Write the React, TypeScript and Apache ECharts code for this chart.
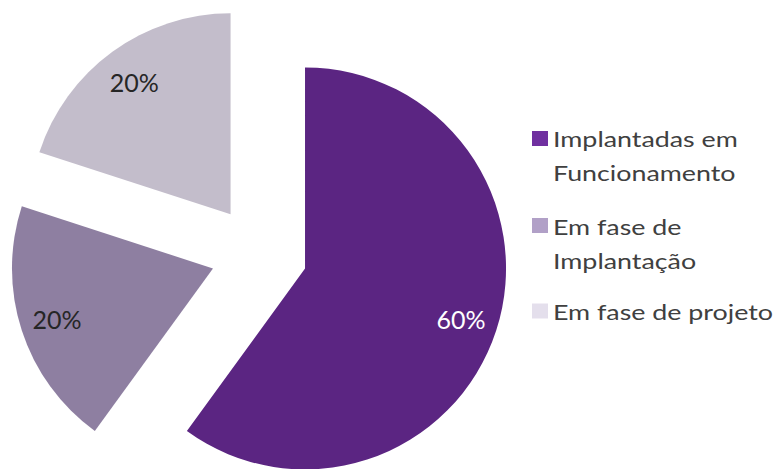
import React, { useEffect, useRef } from "react";
import * as echarts from "echarts";

const categories = ["Implantadas em Funcionamento", "Em fase de Implantação", "Em fase de projeto"];
const legendLines = [["Implantadas em", "Funcionamento"], ["Em fase de", "Implantação"], ["Em fase de projeto"]];
const values = [60, 20, 20];
const sliceColors = ["#5B2582", "#8E7FA1", "#C3BDCB"];
const legendColors = ["#7030A0", "#B1A0C7", "#E4DFEC"];
const labelColors = ["#FFFFFF", "#262626", "#262626"];

const FONT = "Lato, 'Open Sans', sans-serif";

export default function App() {
  const ref = useRef<HTMLDivElement>(null);
  useEffect(() => {
    const chart = echarts.init(ref.current!, undefined, { renderer: "svg" });
    const center = [259, 253.5];
    const R = 201;
    const offset = 48.4;

    // legend drawn as graphic so the swatch aligns with the first line
    const swatchY = [138.5, 225.5, 311];
    const lineY = [[138.5, 172.5], [226, 260], [311]];
    const graphic: any[] = [];
    categories.forEach((_, i) => {
      graphic.push({
        type: "rect",
        x: 532,
        y: swatchY[i] - 7.5,
        shape: { x: 0, y: 0, width: 16, height: 15 },
        style: { fill: legendColors[i] },
      });
      legendLines[i].forEach((line, j) => {
        graphic.push({
          type: "text",
          x: 553,
          y: lineY[i][j],
          scaleX: 1.22,
          style: {
            text: line,
            fill: "#404040",
            font: `22px ${FONT}`,
            textVerticalAlign: "middle",
            verticalAlign: "middle",
            align: "left",
          },
        });
      });
    });

    chart.setOption({
      animation: false,
      backgroundColor: "#ffffff",
      graphic,
      series: [
        {
          type: "pie",
          silent: true,
          center,
          radius: R,
          startAngle: 90,
          clockwise: true,
          selectedMode: "multiple",
          selectedOffset: offset,
          label: { show: false },
          labelLine: { show: false },
          select: { itemStyle: { borderWidth: 0 } },
          data: categories.map((name, i) => ({
            name,
            value: values[i],
            selected: true,
            itemStyle: { color: sliceColors[i] },
            select: { itemStyle: { color: sliceColors[i], borderWidth: 0 } },
          })),
        },
        {
          type: "pie",
          silent: true,
          center,
          radius: [121, R],
          startAngle: 90,
          clockwise: true,
          selectedMode: "multiple",
          selectedOffset: offset,
          itemStyle: { color: "transparent" },
          select: { itemStyle: { color: "transparent", borderWidth: 0 } },
          labelLine: { show: false },
          data: categories.map((name, i) => ({
            name,
            value: values[i],
            selected: true,
            label: {
              show: true,
              position: "inside",
              color: labelColors[i],
              fontFamily: FONT,
              fontSize: 25,
              formatter: (p: any) => `${Math.round(p.percent)}%`,
            },
            select: { label: { color: labelColors[i] } },
          })),
        },
      ],
    });
    return () => chart.dispose();
  }, []);
  return (
    <div
      ref={ref}
      style={{ position: "absolute", left: 0, top: 0, width: 778, height: 469 }}
    />
  );
}
